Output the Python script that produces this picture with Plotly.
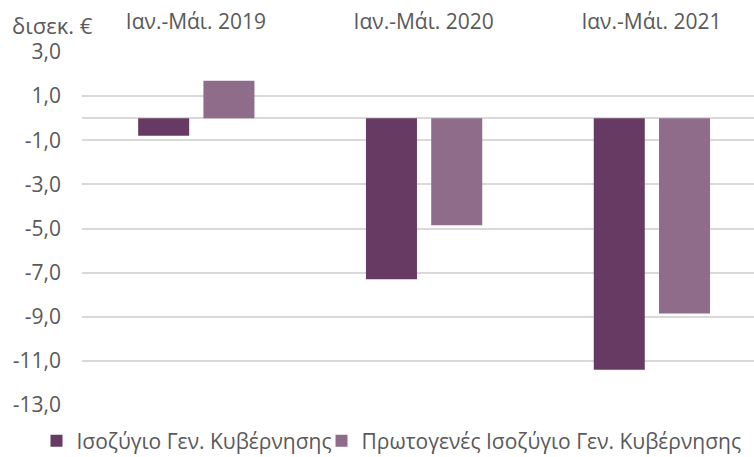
import plotly.graph_objects as go

periods = ["Ιαν.-Μάι. 2019", "Ιαν.-Μάι. 2020", "Ιαν.-Μάι. 2021"]
general_balance = [-0.8, -7.3, -11.4]
primary_balance = [1.7, -4.85, -8.85]
y_ticks = [3, 1, -1, -3, -5, -7, -9, -11, -13]
y_tick_text = ["3,0", "1,0", "-1,0", "-3,0", "-5,0", "-7,0", "-9,0", "-11,0", "-13,0"]

font_family = "Open Sans"
text_color = "#595959"
grid_color = "#d9d9d9"
bar_width = 0.224

fig = go.Figure()
fig.add_trace(go.Bar(
    x=periods, y=general_balance, name="Ισοζύγιο Γεν. Κυβέρνησης",
    width=bar_width, offset=-0.2535, legend="legend",
    marker=dict(color="#673a64", line=dict(width=0)),
))
fig.add_trace(go.Bar(
    x=periods, y=primary_balance, name="Πρωτογενές Ισοζύγιο Γεν. Κυβέρνησης",
    width=bar_width, offset=0.033, legend="legend2",
    marker=dict(color="#8e6c8a", line=dict(width=0)),
))

legend_style = dict(
    orientation="h", xref="container", yref="container",
    xanchor="left", y=0.035, yanchor="middle",
    font=dict(size=21, color=text_color), itemwidth=30,
    bgcolor="rgba(0,0,0,0)",
)

fig.update_layout(
    width=754, height=457,
    margin=dict(l=82, r=0, t=52, b=52, autoexpand=False),
    paper_bgcolor="white", plot_bgcolor="white",
    barmode="overlay",
    font=dict(family=font_family, size=21, color=text_color),
    showlegend=True,
    legend=dict(x=0.0484, **legend_style),
    legend2=dict(x=0.4264, **legend_style),
    xaxis=dict(
        side="top", range=[-0.5, 2.45], showgrid=False, zeroline=False,
        showline=False, ticks="", tickfont=dict(size=21, color=text_color),
        ticklabelstandoff=18,
    ),
    yaxis=dict(
        range=[-13, 3], tickvals=y_ticks, ticktext=y_tick_text,
        showgrid=True, gridcolor=grid_color, gridwidth=1.5,
        zeroline=True, zerolinecolor=grid_color, zerolinewidth=1.5,
        showline=False, ticks="", tickfont=dict(size=21, color=text_color),
        ticklabelstandoff=20,
    ),
    annotations=[dict(
        text="δισεκ. €", xref="paper", yref="paper",
        x=(10 - 82) / 672, y=1 + 27 / 353, xanchor="left", yanchor="middle",
        showarrow=False, font=dict(size=22, color=text_color),
    )],
)

fig.write_html("out.html")
